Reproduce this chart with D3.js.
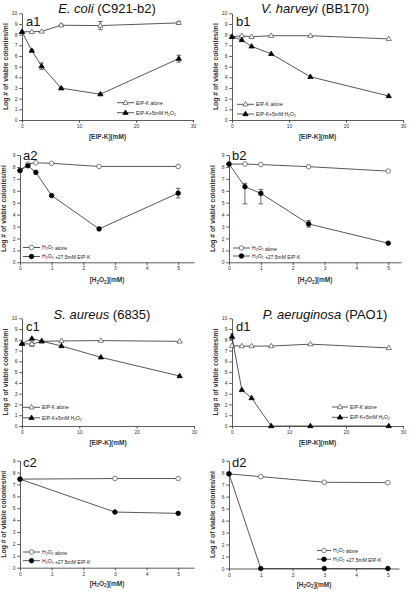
<!DOCTYPE html>
<html><head><meta charset="utf-8">
<script src="https://cdn.jsdelivr.net/npm/d3@7"></script>
<style>body{margin:0;background:#fff}svg{display:block}text{font-family:"Liberation Sans",Arial,sans-serif}</style>
</head><body><svg id="c" width="409" height="593"></svg>
<script>
// ---- data ----
const xEIP = [0, 1.72, 3.44, 6.875, 13.75, 27.5];
const xH2O2a = [0, 0.25, 0.5, 1, 2.5, 5];
const xH2O2b = [0, 0.5, 1, 2.5, 5];
const xH2O2c = [0, 3, 5];
const xH2O2d = [0, 1, 3, 5];
const eipTicks = [0, 10, 20, 30];
const h2o2Ticks = [0, 1, 2, 3, 4, 5];

const a1Alone = [8.27, 8.27, 8.3, 8.88, 8.85, 9.1];
const a1AloneErr = [0, 0, 0, 0.1, 0.38, 0.12];
const a1Combo = [8.27, 6.5, 5.05, 2.98, 2.42, 5.75];
const a1ComboErr = [0, 0.08, 0.3, 0.08, 0.08, 0.32];

const a2Alone = [7.7, 8.24, 8.35, 8.3, 8.04, 8.04];
const a2Combo = [7.7, 8.1, 7.54, 5.6, 2.8, 5.8];
const a2ComboErr = [0, 0, 0, 0, 0, 0.4];

const b1Alone = [7.8, 7.9, 7.8, 7.9, 7.9, 7.6];
const b1Combo = [7.8, 7.5, 6.9, 6.2, 4.05, 2.25];

const b2Alone = [8.24, 8.24, 8.2, 8.02, 7.65];
const b2Combo = [8.24, 6.34, 5.78, 3.22, 1.6];
const b2ComboHi = [8.24, 6.62, 6.1, 3.5, 1.6];
const b2ComboLo = [8.24, 4.9, 4.9, 2.95, 1.6];

const c1Alone = [7.65, 7.6, 7.86, 7.9, 7.93, 7.86];
const c1AloneErr = [0, 0.2, 0, 0, 0, 0];
const c1Combo = [7.65, 8.12, 7.88, 7.43, 6.38, 4.64];

const c2Alone = [7.45, 7.5, 7.5];
const c2Combo = [7.45, 4.68, 4.57];

const d1Alone = [7.46, 7.42, 7.42, 7.42, 7.6, 7.25];
const d1Combo = [8.3, 3.35, 2.6, 0, 0, 0];
const d1ComboErr = [0.25, 0, 0, 0, 0, 0];

const d2Alone = [7.9, 7.67, 7.2, 7.17];
const d2Combo = [7.9, 0, 0, 0];

const titles = [
  {it: "E. coli", rest: " (C921-b2)"},
  {it: "V. harveyi", rest: " (BB170)"},
  {it: "S. aureus", rest: " (6835)"},
  {it: "P. aeruginosa", rest: " (PAO1)"}
];

const svg = d3.select("#c");
const ink = "#333";

function panel(o) {
  const xs = d3.scaleLinear().domain([0, o.xmax]).range([o.x0, o.x0 + o.xlen]);
  const ys = d3.scaleLinear().domain([0, o.ymax]).range([o.yb, o.yt]);
  const g = svg.append("g");
  const xa = g.append("g").attr("transform", `translate(0,${o.yb})`)
    .call(d3.axisBottom(xs).tickValues(o.xticks).tickFormat(d3.format("d")).tickSize(2.8).tickSizeOuter(0).tickPadding(1.8));
  const yt = d3.range(0, o.ymax + 1);
  const ya = g.append("g").attr("transform", `translate(${o.x0},0)`)
    .call(d3.axisLeft(ys).tickValues(yt).tickFormat(d3.format("d")).tickSize(2.8).tickSizeOuter(0).tickPadding(1.8));
  [xa, ya].forEach(a => {
    a.selectAll("path,line").attr("stroke", ink).attr("stroke-width", 0.8);
    a.selectAll("text").attr("font-size", 5).attr("fill", ink).attr("font-family", "Liberation Sans, Arial");
  });
  // axis titles
  const xl = g.append("text").attr("x", o.x0 + o.xlen * 0.5).attr("y", o.yb + o.xly)
    .attr("text-anchor", "middle").attr("font-size", 6.5).attr("font-weight", "bold").attr("fill", ink);
  if (o.xlab === "eip") xl.text("[EIP-K](mM)");
  else { xl.append("tspan").text("[H"); xl.append("tspan").attr("font-size", 4.5).attr("dy", 1.5).text("2");
    xl.append("tspan").attr("dy", -1.5).text("O"); xl.append("tspan").attr("font-size", 4.5).attr("dy", 1.5).text("2");
    xl.append("tspan").attr("dy", -1.5).text("](mM)"); }
  const ymid = (o.yb + o.yt) / 2;
  g.append("text").attr("transform", `translate(${o.x0 - 14},${ymid}) rotate(-90)`)
    .attr("text-anchor", "middle").attr("font-size", 6.8).attr("font-weight", "bold").attr("fill", ink)
    .text("Log # of viable colonies/ml");
  g.append("text").attr("x", o.x0 + o.tagdx).attr("y", o.yt + o.tagdy).attr("font-size", 13).attr("fill", "#111").text(o.tag);

  o.series.forEach(s => {
    const pts = o.xv.map((x, i) => ({x, y: s.y[i], i}));
    g.append("path").datum(pts).attr("fill", "none").attr("stroke", "#444").attr("stroke-width", 0.9)
      .attr("d", d3.line().x(d => xs(d.x)).y(d => ys(d.y)));
    if (s.err || s.hi) {
      pts.forEach(d => {
        const hi = s.hi ? s.hi[d.i] : d.y + s.err[d.i];
        const lo = s.lo ? s.lo[d.i] : d.y - s.err[d.i];
        if (hi - lo < 0.01) return;
        const cx = xs(d.x);
        g.append("line").attr("x1", cx).attr("x2", cx).attr("y1", ys(hi)).attr("y2", ys(lo)).attr("stroke", "#444").attr("stroke-width", 0.8);
        [hi, lo].forEach(v => g.append("line").attr("x1", cx - 2.3).attr("x2", cx + 2.3).attr("y1", ys(v)).attr("y2", ys(v)).attr("stroke", "#444").attr("stroke-width", 0.8));
      });
    }
    pts.forEach(d => marker(g, xs(d.x), ys(d.y), s.shape, s.filled));
  });
  // legend
  o.series.forEach((s, i) => {
    const ly = o.ly + i * o.lgap;
    g.append("line").attr("x1", o.lx).attr("x2", o.lx + o.llen).attr("y1", ly).attr("y2", ly).attr("stroke", "#444").attr("stroke-width", 0.9);
    marker(g, o.lx + o.llen / 2, ly, s.shape, s.filled);
    const t = g.append("text").attr("x", o.lx + o.llen + 2).attr("y", ly + 1.8).attr("font-size", 5).attr("fill", "#222");
    legendText(t, s.label);
  });
}

function legendText(t, lab) {
  const parts = lab.split(/(H2O2)/);
  parts.forEach(p => {
    if (p === "H2O2") {
      t.append("tspan").text("H"); t.append("tspan").attr("font-size", 3.6).attr("dy", 1.1).text("2");
      t.append("tspan").attr("dy", -1.1).text("O"); t.append("tspan").attr("font-size", 3.6).attr("dy", 1.1).text("2");
      t.append("tspan").attr("dy", -1.1).text("");
    } else if (p) t.append("tspan").text(p);
  });
}

function marker(g, x, y, shape, filled) {
  if (shape === "tri") {
    const r = 2.8;
    g.append("path").attr("d", `M${x},${y - r}L${x + r * 0.95},${y + r * 0.6}L${x - r * 0.95},${y + r * 0.6}Z`)
      .attr("fill", filled ? "#000" : "#fff").attr("stroke", filled ? "#000" : "#555").attr("stroke-width", 0.75);
  } else {
    g.append("circle").attr("cx", x).attr("cy", y).attr("r", 2.3)
      .attr("fill", filled ? "#000" : "#fff").attr("stroke", filled ? "#000" : "#555").attr("stroke-width", 0.75);
  }
}

const aloneT = "EIP-K alone", comboT = "EIP-K+5mM H2O2";
const aloneC = "H2O2 alone", comboC = "H2O2 +27.5mM EIP-K";

panel({tag: "a1", x0: 22, xlen: 171, xmax: 30, xticks: eipTicks, yt: 13.3, yb: 120, ymax: 10, xv: xEIP, xlab: "eip", xly: 19,
  tagdx: 4, tagdy: 13, lx: 117, ly: 102.7, lgap: 10, llen: 17,
  series: [{y: a1Alone, err: a1AloneErr, shape: "tri", filled: false, label: aloneT},
           {y: a1Combo, err: a1ComboErr, shape: "tri", filled: true, label: comboT}]});
panel({tag: "a2", x0: 20, xlen: 174, xmax: 5.5, xticks: h2o2Ticks, yt: 155, yb: 262.3, ymax: 9, xv: xH2O2a, xlab: "h", xly: 20,
  tagdx: 3, tagdy: 5, lx: 23, ly: 247.5, lgap: 9, llen: 17,
  series: [{y: a2Alone, shape: "circ", filled: false, label: aloneC},
           {y: a2Combo, err: a2ComboErr, shape: "circ", filled: true, label: comboC}]});
panel({tag: "b1", x0: 232, xlen: 171, xmax: 30, xticks: eipTicks, yt: 13.3, yb: 120, ymax: 10, xv: xEIP, xlab: "eip", xly: 19,
  tagdx: 4, tagdy: 13, lx: 237, ly: 104.3, lgap: 9.7, llen: 17,
  series: [{y: b1Alone, shape: "tri", filled: false, label: aloneT},
           {y: b1Combo, shape: "tri", filled: true, label: comboT}]});
panel({tag: "b2", x0: 229, xlen: 172, xmax: 5.4, xticks: h2o2Ticks, yt: 155, yb: 262.3, ymax: 9, xv: xH2O2b, xlab: "h", xly: 20,
  tagdx: 3, tagdy: 5, lx: 233, ly: 248, lgap: 8, llen: 17,
  series: [{y: b2Alone, shape: "circ", filled: false, label: aloneC},
           {y: b2Combo, hi: b2ComboHi, lo: b2ComboLo, shape: "circ", filled: true, label: comboC}]});
panel({tag: "c1", x0: 22, xlen: 172, xmax: 30, xticks: eipTicks, yt: 318.3, yb: 426, ymax: 10, xv: xEIP, xlab: "eip", xly: 19,
  tagdx: 4, tagdy: 13, lx: 23, ly: 407.3, lgap: 10.5, llen: 17,
  series: [{y: c1Alone, err: c1AloneErr, shape: "tri", filled: false, label: aloneT},
           {y: c1Combo, shape: "tri", filled: true, label: comboT}]});
panel({tag: "c2", x0: 20, xlen: 174, xmax: 5.5, xticks: h2o2Ticks, yt: 460.7, yb: 567.7, ymax: 9, xv: xH2O2c, xlab: "h", xly: 18,
  tagdx: 3, tagdy: 6, lx: 23, ly: 552, lgap: 8.7, llen: 17,
  series: [{y: c2Alone, shape: "circ", filled: false, label: aloneC},
           {y: c2Combo, shape: "circ", filled: true, label: comboC}]});
panel({tag: "d1", x0: 232, xlen: 171, xmax: 30, xticks: eipTicks, yt: 318.3, yb: 426, ymax: 10, xv: xEIP, xlab: "eip", xly: 19,
  tagdx: 4, tagdy: 13, lx: 332, ly: 407, lgap: 10.3, llen: 16,
  series: [{y: d1Alone, shape: "tri", filled: false, label: aloneT},
           {y: d1Combo, err: d1ComboErr, shape: "tri", filled: true, label: comboT}]});
panel({tag: "d2", x0: 229, xlen: 170, xmax: 5.35, xticks: h2o2Ticks, yt: 460.7, yb: 568.5, ymax: 9, xv: xH2O2d, xlab: "h", xly: 18,
  tagdx: 3, tagdy: 6, lx: 317, ly: 550.5, lgap: 8.7, llen: 14,
  series: [{y: d2Alone, shape: "circ", filled: false, label: aloneC},
           {y: d2Combo, shape: "circ", filled: true, label: comboC}]});

// titles
const tpos = [[107, 13], [315, 13], [102, 319], [325, 319]];
titles.forEach((t, i) => {
  const tx = svg.append("text").attr("x", tpos[i][0]).attr("y", tpos[i][1]).attr("text-anchor", "middle")
    .attr("font-size", 13).attr("fill", "#111");
  tx.append("tspan").attr("font-style", "italic").text(t.it);
  tx.append("tspan").text(t.rest);
});
</script></body></html>
